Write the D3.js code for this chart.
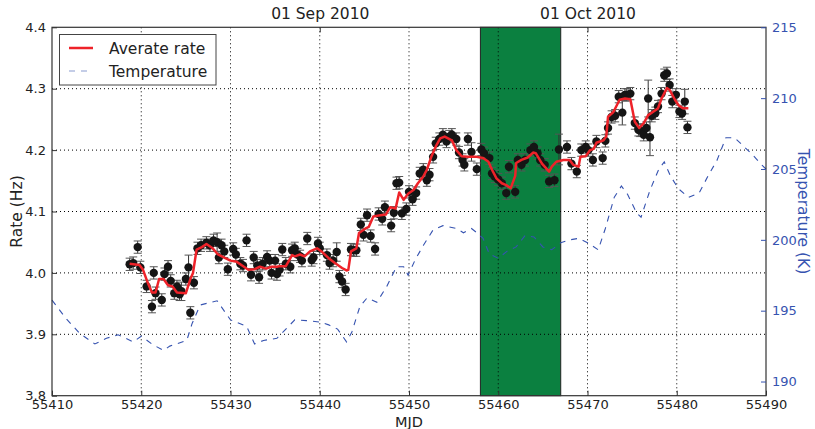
<!DOCTYPE html>
<html><head><meta charset="utf-8">
<script src="https://cdn.jsdelivr.net/npm/d3@7"></script>
<style>body{margin:0;background:#fff}svg{font-family:"DejaVu Sans",sans-serif}</style>
</head><body><svg id="c" width="815" height="429"></svg>
<script>
const ptMjd=[55418.7,55419.1,55419.6,55419.9,55420.6,55421.2,55421.4,55421.6,55422.3,55422.6,55423.0,55423.3,55423.7,55424.0,55424.3,55424.5,55425.0,55425.3,55425.5,55425.9,55426.3,55426.7,55427.3,55427.7,55428.1,55428.5,55428.7,55429.0,55429.3,55429.7,55430.3,55430.6,55431.1,55431.4,55431.8,55432.3,55432.6,55433.0,55433.2,55433.6,55434.1,55434.4,55434.6,55435.0,55435.2,55435.5,55435.8,55436.2,55436.7,55436.9,55437.2,55437.5,55437.8,55438.0,55438.6,55439.1,55439.3,55439.8,55440.0,55440.8,55441.1,55441.5,55441.9,55442.2,55442.5,55442.9,55443.5,55443.8,55444.1,55444.6,55444.9,55445.3,55445.7,55446.2,55446.6,55447.0,55447.3,55448.0,55448.3,55448.6,55448.9,55449.2,55449.7,55450.0,55450.4,55450.8,55451.2,55451.6,55452.0,55452.3,55452.7,55453.0,55453.4,55453.8,55454.2,55454.5,55454.8,55455.3,55455.6,55456.0,55456.2,55456.6,55457.0,55457.6,55458.1,55458.4,55459.0,55459.3,55459.6,55460.0,55460.4,55460.9,55461.2,55461.9,55462.2,55462.6,55463.0,55463.6,55464.0,55464.4,55464.7,55465.2,55465.7,55466.3,55466.8,55467.7,55468.2,55468.8,55469.3,55469.8,55470.1,55470.6,55471.0,55471.7,55472.0,55472.3,55472.7,55473.1,55473.5,55473.9,55474.2,55474.4,55474.8,55475.3,55475.7,55475.9,55476.3,55476.6,55476.8,55477.0,55477.2,55477.6,55477.9,55478.3,55478.6,55478.9,55479.2,55479.5,55479.9,55480.3,55480.6,55480.9,55481.2];
const ptRate=[4.014,4.016,4.042,4.009,3.978,3.945,4.000,3.967,3.956,3.998,4.010,3.987,3.967,3.978,3.965,3.970,3.990,4.009,3.935,3.984,4.040,4.045,4.049,4.045,4.053,4.050,4.025,4.045,4.035,4.006,4.039,4.030,4.015,4.012,4.053,3.997,4.025,4.012,3.993,4.015,4.026,4.020,4.000,4.020,3.998,4.005,4.038,4.015,4.010,4.037,4.040,4.030,4.027,4.020,4.056,4.021,4.025,4.048,4.040,4.029,4.016,4.020,4.034,3.994,3.986,3.973,4.038,4.037,4.037,4.079,4.062,4.094,4.060,4.039,4.096,4.088,4.107,4.077,4.098,4.146,4.147,4.097,4.104,4.132,4.120,4.130,4.162,4.168,4.151,4.160,4.189,4.211,4.218,4.225,4.214,4.222,4.225,4.218,4.196,4.184,4.176,4.218,4.197,4.169,4.201,4.195,4.187,4.162,4.157,4.152,4.146,4.130,4.173,4.132,4.184,4.176,4.184,4.200,4.205,4.195,4.184,4.176,4.149,4.151,4.201,4.205,4.178,4.165,4.200,4.205,4.200,4.184,4.214,4.187,4.215,4.236,4.254,4.256,4.287,4.261,4.290,4.290,4.292,4.244,4.233,4.232,4.225,4.236,4.284,4.221,4.256,4.260,4.271,4.292,4.322,4.325,4.306,4.279,4.290,4.263,4.260,4.279,4.237];
const ptErr=[0.01,0.01,0.01,0.01,0.01,0.01,0.01,0.01,0.01,0.01,0.01,0.01,0.01,0.01,0.01,0.015,0.01,0.02,0.01,0.01,0.01,0.01,0.01,0.01,0.01,0.015,0.01,0.01,0.01,0.01,0.01,0.01,0.01,0.01,0.01,0.01,0.01,0.01,0.01,0.01,0.01,0.01,0.01,0.01,0.01,0.01,0.01,0.01,0.01,0.01,0.01,0.01,0.01,0.01,0.01,0.01,0.01,0.01,0.01,0.01,0.01,0.01,0.015,0.01,0.01,0.01,0.01,0.01,0.01,0.01,0.01,0.01,0.01,0.01,0.01,0.01,0.01,0.01,0.01,0.01,0.01,0.01,0.01,0.01,0.01,0.01,0.01,0.01,0.01,0.01,0.01,0.01,0.01,0.01,0.01,0.01,0.01,0.01,0.01,0.01,0.01,0.01,0.015,0.01,0.01,0.01,0.01,0.01,0.01,0.01,0.01,0.01,0.01,0.01,0.01,0.01,0.01,0.01,0.01,0.01,0.01,0.01,0.01,0.01,0.025,0.01,0.01,0.01,0.01,0.01,0.01,0.01,0.01,0.01,0.01,0.01,0.01,0.01,0.01,0.02,0.01,0.01,0.01,0.01,0.01,0.01,0.01,0.01,0.03,0.03,0.01,0.01,0.01,0.01,0.01,0.01,0.01,0.01,0.01,0.01,0.01,0.02,0.01];
const avgMjd=[55418.7,55419.8,55420.2,55420.7,55421.2,55421.6,55422.0,55422.5,55423.0,55423.5,55424.0,55425.0,55425.5,55425.8,55426.2,55426.8,55427.3,55428.0,55428.6,55429.3,55430.0,55430.7,55431.3,55432.0,55432.7,55433.3,55434.0,55434.6,55435.2,55435.5,55436.2,55436.9,55437.2,55437.8,55438.3,55438.9,55439.7,55440.2,55441.0,55441.7,55442.5,55443.0,55443.2,55443.5,55444.1,55444.4,55445.2,55445.5,55446.0,55446.8,55447.4,55447.9,55448.5,55448.9,55449.4,55449.9,55450.5,55451.0,55451.6,55452.0,55452.5,55453.0,55453.5,55454.0,55454.8,55455.3,55455.9,55456.6,55457.6,55458.3,55458.9,55459.3,55459.8,55460.4,55460.9,55461.4,55461.9,55462.0,55462.6,55463.3,55463.9,55464.2,55464.9,55465.2,55465.7,55466.0,55466.5,55467.3,55468.0,55468.4,55469.0,55469.2,55469.8,55470.3,55470.7,55471.0,55471.8,55472.1,55472.3,55472.9,55473.6,55474.2,55474.8,55475.3,55475.8,55476.3,55476.8,55477.4,55477.9,55478.3,55478.9,55479.2,55479.8,55480.2,55480.7,55481.3];
const avgRate=[4.015,4.013,4.005,3.985,3.968,3.968,3.990,3.990,3.980,3.978,3.968,3.967,3.990,4.000,4.038,4.042,4.047,4.040,4.030,4.025,4.020,4.018,4.012,4.005,4.006,4.010,4.007,4.010,4.010,4.011,4.011,4.029,4.027,4.030,4.027,4.035,4.040,4.035,4.024,4.016,4.008,4.004,4.005,4.035,4.040,4.065,4.073,4.075,4.092,4.094,4.095,4.107,4.105,4.131,4.119,4.129,4.135,4.146,4.157,4.168,4.189,4.206,4.219,4.222,4.216,4.200,4.190,4.189,4.189,4.187,4.181,4.168,4.154,4.146,4.143,4.138,4.158,4.179,4.184,4.188,4.196,4.195,4.178,4.173,4.165,4.173,4.181,4.184,4.184,4.176,4.173,4.189,4.190,4.200,4.202,4.212,4.216,4.222,4.254,4.262,4.282,4.284,4.283,4.246,4.236,4.244,4.257,4.263,4.268,4.284,4.301,4.298,4.282,4.273,4.268,4.268];
const tempMjd=[55410.0,55411.5,55413.1,55414.8,55416.1,55417.4,55419.1,55420.0,55421.3,55422.5,55423.2,55425.1,55425.7,55426.6,55428.5,55430.0,55431.8,55432.7,55433.7,55435.2,55437.2,55438.5,55440.0,55441.0,55442.0,55443.0,55443.6,55444.5,55445.3,55446.4,55447.5,55448.6,55449.4,55449.9,55450.7,55451.6,55452.7,55453.8,55455.3,55456.1,55457.0,55457.6,55458.3,55459.0,55460.0,55461.0,55462.0,55463.0,55464.0,55465.0,55466.0,55467.0,55468.0,55469.0,55470.0,55471.2,55472.0,55473.0,55473.8,55474.5,55475.5,55476.0,55477.0,55478.0,55478.6,55479.3,55480.2,55481.3,55482.5,55483.5,55484.5,55485.5,55486.5,55487.5,55488.5,55489.5,55490.0];
const tempK=[195.75,194.5,193.4,192.65,193.05,193.3,192.8,193.2,192.6,192.2,192.5,192.9,194.1,195.4,195.7,194.35,193.9,192.65,192.9,193.05,194.35,194.3,194.2,194.0,193.7,192.8,193.5,195.3,195.9,195.6,196.7,198.1,198.1,197.5,198.6,199.6,200.7,201.0,200.8,200.5,200.8,200.5,200.1,199.0,198.7,199.2,199.5,200.3,200.2,199.5,199.3,199.8,200.0,200.1,199.8,199.3,200.8,203.0,203.8,203.2,201.9,201.6,203.5,205.0,205.5,204.5,203.6,203.0,203.3,204.5,205.6,207.2,207.2,206.6,206.0,205.3,205.0];
const xTicks=[55410,55420,55430,55440,55450,55460,55470,55480,55490];
const yTicks=[3.8,3.9,4.0,4.1,4.2,4.3,4.4];
const tTicks=[190,195,200,205,210,215];
const dateTicks=[55440,55470];
const dateLabels=["01 Sep 2010","01 Oct 2010"];
const band=[55458,55467];
const legendLabels=["Averate rate","Temperature"];

const svg=d3.select("#c");
const L=52,R=766,T=27.3,B=395.7;
const x=d3.scaleLinear().domain([55410,55490]).range([L,R]);
const y=d3.scaleLinear().domain([3.8,4.4]).range([B,T]);
const yt=d3.scaleLinear().domain([189,215]).range([B,T]);
const blue="#3653b0", red="#ee2229";

svg.append("rect").attr("x",x(band[0])).attr("y",T).attr("width",x(band[1])-x(band[0])).attr("height",B-T)
  .attr("fill","#0b8040").attr("stroke","#222").attr("stroke-width",1);
const g=svg.append("g");
g.selectAll(".gx").data(xTicks.slice(1,-1)).join("line").attr("x1",d=>x(d)).attr("x2",d=>x(d)).attr("y1",T).attr("y2",B)
  .attr("stroke","#000").attr("stroke-width",1).attr("stroke-dasharray","1,3");
g.selectAll(".gy").data(yTicks.slice(1,-1)).join("line").attr("y1",d=>y(d)).attr("y2",d=>y(d)).attr("x1",L).attr("x2",R)
  .attr("stroke","#000").attr("stroke-width",1).attr("stroke-dasharray","1,3");

const tLine=d3.line().x((d,i)=>x(tempMjd[i])).y(d=>yt(d));
svg.append("path").attr("d",tLine(tempK)).attr("fill","none").attr("stroke",blue).attr("stroke-width",1.1).attr("stroke-dasharray","6,6");

const eb=svg.append("g").attr("stroke","#333").attr("stroke-width",1);
ptRate.forEach((r,i)=>{
  const cx=x(ptMjd[i]), y1=y(r-ptErr[i]), y2=y(r+ptErr[i]);
  eb.append("line").attr("x1",cx).attr("x2",cx).attr("y1",y1).attr("y2",y2);
  eb.append("line").attr("x1",cx-4).attr("x2",cx+4).attr("y1",y1).attr("y2",y1).attr("stroke","#555");
  eb.append("line").attr("x1",cx-4).attr("x2",cx+4).attr("y1",y2).attr("y2",y2).attr("stroke","#555");
});
svg.append("g").selectAll("circle").data(ptRate).join("circle").attr("cx",(d,i)=>x(ptMjd[i])).attr("cy",d=>y(d)).attr("r",4.2).attr("fill","#151515");

const aLine=d3.line().x((d,i)=>x(avgMjd[i])).y(d=>y(d));
svg.append("path").attr("d",aLine(avgRate)).attr("fill","none").attr("stroke",red).attr("stroke-width",2.5).attr("stroke-linejoin","round");

svg.append("rect").attr("x",L).attr("y",T).attr("width",R-L).attr("height",B-T).attr("fill","none").attr("stroke","#333").attr("stroke-width",1.2);

const xa=svg.append("g").attr("transform",`translate(0,${B})`).call(d3.axisBottom(x).tickValues(xTicks).tickFormat(d3.format("d")).tickSizeInner(-5).tickSizeOuter(0).tickPadding(4));
const ya=svg.append("g").attr("transform",`translate(${L},0)`).call(d3.axisLeft(y).tickValues(yTicks).tickFormat(d3.format(".1f")).tickSizeInner(-5).tickSizeOuter(0).tickPadding(6));
const ta=svg.append("g").attr("transform",`translate(${R},0)`).call(d3.axisRight(yt).tickValues(tTicks).tickSizeInner(-5).tickSizeOuter(0).tickPadding(6));
const da=svg.append("g").attr("transform",`translate(0,${T})`).call(d3.axisTop(x).tickValues(dateTicks).tickFormat((d,i)=>dateLabels[i]).tickSizeInner(-5).tickSizeOuter(0).tickPadding(8));
[xa,ya,ta,da].forEach(a=>{a.select(".domain").remove();a.selectAll("text").attr("font-family","DejaVu Sans").attr("font-size",13).attr("fill","#222");a.selectAll("line").attr("stroke","#333");});
ta.selectAll("text").attr("fill",blue);
ta.selectAll("line").attr("stroke",blue);
da.selectAll("text").attr("font-size",15.5);

svg.append("text").attr("x",x(55450)).attr("y",427).attr("text-anchor","middle").attr("font-size",14.5).attr("fill","#222").text("MJD");
svg.append("text").attr("transform",`translate(22,${(T+B)/2}) rotate(-90)`).attr("text-anchor","middle").attr("font-size",15.5).attr("fill","#222").text("Rate (Hz)");
svg.append("text").attr("transform",`translate(798,${(T+B)/2}) rotate(90)`).attr("text-anchor","middle").attr("font-size",15.5).attr("fill",blue).text("Temperature (K)");

const lg=svg.append("g");
lg.append("rect").attr("x",59.5).attr("y",34.5).attr("width",156.5).attr("height",50.5).attr("fill","#fff").attr("stroke","#444").attr("stroke-width",1);
lg.append("line").attr("x1",69).attr("x2",93).attr("y1",48).attr("y2",48).attr("stroke",red).attr("stroke-width",2.5);
lg.append("line").attr("x1",69).attr("x2",93).attr("y1",71).attr("y2",71).attr("stroke","#8a9bd0").attr("stroke-width",1.2).attr("stroke-dasharray","6,6");
lg.selectAll("text").data(legendLabels).join("text").attr("x",109).attr("y",(d,i)=>54+i*23).attr("font-size",15.5).attr("fill","#222").text(d=>d);
</script></body></html>
